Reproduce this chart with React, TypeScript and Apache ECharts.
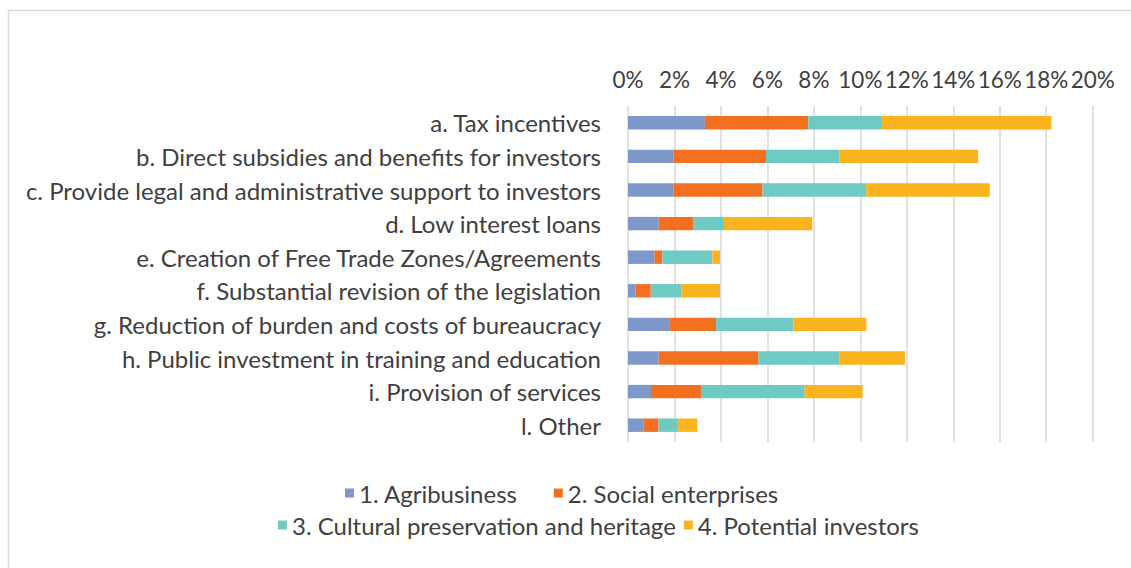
import React, { useEffect, useRef } from "react";
import * as echarts from "echarts";

const categories = [
  "a. Tax incentives",
  "b. Direct subsidies and benefits for investors",
  "c. Provide legal and administrative support to investors",
  "d. Low interest loans",
  "e. Creation of Free Trade Zones/Agreements",
  "f. Substantial revision of the legislation",
  "g. Reduction of burden and costs of bureaucracy",
  "h. Public investment in training and education",
  "i. Provision of services",
  "l. Other",
];

const seriesNames = [
  "1. Agribusiness",
  "2. Social enterprises",
  "3. Cultural preservation and heritage",
  "4. Potential investors",
];

const agribusiness = [3.31, 1.97, 1.97, 1.32, 1.15, 0.33, 1.81, 1.32, 0.99, 0.66];
const socialEnterprises = [4.45, 3.97, 3.82, 1.48, 0.33, 0.65, 1.98, 4.3, 2.15, 0.65];
const culturalHeritage = [3.17, 3.16, 4.46, 1.33, 2.15, 1.33, 3.33, 3.47, 4.46, 0.85];
const potentialInvestors = [7.29, 5.97, 5.32, 3.8, 0.33, 1.65, 3.14, 2.83, 2.5, 0.82];

const colors = ["#7F98CA", "#F37021", "#6FCAC4", "#FCB41E"];

export default function App() {
  const ref = useRef<HTMLDivElement>(null);
  useEffect(() => {
    if (!ref.current) return;
    const chart = echarts.init(ref.current, null, { renderer: "svg" });
    const font = "Lato, 'Open Sans', sans-serif";
    const fs = 24;
    const dataSets = [agribusiness, socialEnterprises, culturalHeritage, potentialInvestors];
    chart.setOption({
      animation: false,
      textStyle: { fontFamily: font },
      graphic: [
        {
          type: "rect",
          shape: { x: 8.5, y: 10.5, width: 1200, height: 1000 },
          style: { fill: "none", stroke: "#D9D9D9", lineWidth: 1.5 },
          silent: true,
        },
      ],
      legend: [
        {
          data: seriesNames.slice(0, 2),
          top: 476,
          left: 340,
          itemWidth: 9,
          itemHeight: 9,
          itemGap: 36,
          icon: "rect",
          textStyle: { fontSize: fs, color: "#404040", fontFamily: font },
        },
        {
          data: seriesNames.slice(2),
          top: 508,
          left: 273,
          itemWidth: 9,
          itemHeight: 9,
          itemGap: 8,
          icon: "rect",
          textStyle: { fontSize: fs, color: "#404040", fontFamily: font },
        },
      ],
      grid: { left: 628, right: 38.3, top: 106, bottom: 126, containLabel: false },
      xAxis: {
        type: "value",
        position: "top",
        min: 0,
        max: 20,
        interval: 2,
        axisLine: { show: false },
        axisTick: { show: false },
        splitLine: { show: true, lineStyle: { color: "#D9D9D9", width: 1.5 } },
        axisLabel: {
          formatter: (v: number) => v + "%",
          fontSize: 22.5,
          color: "#404040",
          margin: 15,
          fontFamily: font,
          showMinLabel: true,
          showMaxLabel: true,
          hideOverlap: false,
        },
      },
      yAxis: {
        type: "category",
        data: categories,
        inverse: true,
        axisLine: { show: false },
        axisTick: { show: false },
        axisLabel: { fontSize: fs, color: "#404040", margin: 27, fontFamily: font },
      },
      series: dataSets.map((d, i) => ({
        name: seriesNames[i],
        type: "bar",
        stack: "total",
        data: d,
        barWidth: "40%",
        itemStyle: { color: colors[i] },
      })),
    });
    return () => chart.dispose();
  }, []);
  return (
    <div
      ref={ref}
      style={{ position: "absolute", left: 0, top: 0, width: 1131, height: 568, background: "#fff" }}
    />
  );
}
